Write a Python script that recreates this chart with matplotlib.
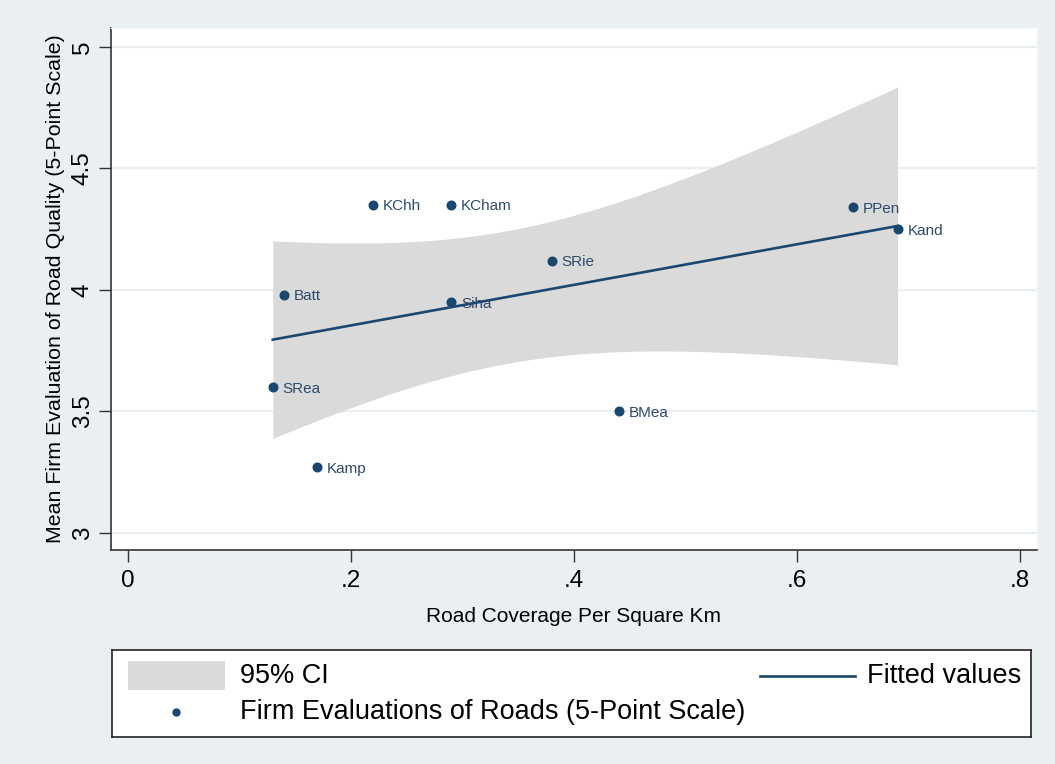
import numpy as np
import matplotlib
matplotlib.use("Agg")
import matplotlib.pyplot as plt
from matplotlib.patches import Rectangle
from matplotlib.lines import Line2D

plt.rcParams['font.family'] = ['Liberation Sans', 'DejaVu Sans']

# Province-level data: road coverage vs. mean firm rating of road quality
provinces = ["KChh", "KCham", "PPen", "Kand", "SRie", "Batt", "Siha", "SRea", "BMea", "Kamp"]
road_coverage = [0.22, 0.29, 0.65, 0.69, 0.38, 0.14, 0.29, 0.13, 0.44, 0.17]
road_quality = [4.35, 4.35, 4.34, 4.25, 4.12, 3.98, 3.95, 3.60, 3.50, 3.27]

x_ticks = [0, 0.2, 0.4, 0.6, 0.8]
x_tick_labels = ["0", ".2", ".4", ".6", ".8"]
y_ticks = [3, 3.5, 4, 4.5, 5]
y_tick_labels = ["3", "3.5", "4", "4.5", "5"]

navy = "#1a476f"
label_col = "#2d4a6c"
ci_col = "#dadada"
bg_col = "#eaf0f2"
grid_col = "#e9eef0"

# Linear fit with 95% confidence band for the mean prediction
x = np.asarray(road_coverage)
y = np.asarray(road_quality)
n = len(x)
slope, intercept = np.polyfit(x, y, 1)
resid = y - (intercept + slope * x)
s = np.sqrt(np.sum(resid ** 2) / (n - 2))
sxx = np.sum((x - x.mean()) ** 2)
t_crit = 2.306  # t(0.975, df=8)
xf = np.linspace(x.min(), x.max(), 200)
yf = intercept + slope * xf
half = t_crit * s * np.sqrt(1.0 / n + (xf - x.mean()) ** 2 / sxx)

fig = plt.figure(figsize=(10.55, 7.64), dpi=100, facecolor=bg_col)
W, H = 1055, 764
ax = fig.add_axes([111 / W, 1 - 550 / H, (1037 - 111) / W, (550 - 28) / H])
ax.set_facecolor("white")

ax.fill_between(xf, yf - half, yf + half, color=ci_col, lw=0, zorder=1)
ax.plot(xf, yf, color=navy, lw=1.9, zorder=3)
ax.plot(x, y, "o", color=navy, ms=6.2, zorder=4)
for name, xi, yi in zip(provinces, x, y):
    ax.annotate(name, (xi, yi), xytext=(7, -1), textcoords="offset points",
                ha="left", va="center", fontsize=11, color=label_col, zorder=5)

ax.set_xlim(-0.015, 0.815)
ax.set_ylim(2.93, 5.078)
ax.set_xticks(x_ticks)
ax.set_xticklabels(x_tick_labels, fontsize=17.5)
ax.set_yticks(y_ticks)
ax.set_yticklabels(y_tick_labels, fontsize=17.5, rotation=90, va="center")
ax.tick_params(axis="both", length=8.5, width=1.0, color="#333333")
ax.tick_params(axis="x", pad=6)
ax.tick_params(axis="y", pad=4)
ax.yaxis.grid(True, color=grid_col, lw=1.6, zorder=0)
ax.set_axisbelow(True)

for side in ["top", "right"]:
    ax.spines[side].set_color("#f4f7f8")
    ax.spines[side].set_linewidth(1.0)
for side in ["left", "bottom"]:
    ax.spines[side].set_color("#333333")
    ax.spines[side].set_linewidth(1.2)

ax.set_xlabel("Road Coverage Per Square Km", fontsize=15, labelpad=11)
ax.set_ylabel("Mean Firm Evaluation of Road Quality (5-Point Scale)", fontsize=15.4, labelpad=5)

# Legend panel
lax = fig.add_axes([112 / W, 1 - 737 / H, (1031 - 112) / W, (737 - 650) / H])
lax.set_xlim(112, 1031)
lax.set_ylim(737, 650)
lax.set_facecolor("white")
for sp in lax.spines.values():
    sp.set_color("#222222")
    sp.set_linewidth(1.2)
lax.set_xticks([])
lax.set_yticks([])

lax.add_patch(Rectangle((128, 661), 97, 29, color=ci_col, lw=0))
lax.text(240, 676, "95% CI", fontsize=19.5, va="center", ha="left")
lax.add_line(Line2D([760, 855], [676, 676], color=navy, lw=1.9))
lax.text(1021, 676, "Fitted values", fontsize=19.5, va="center", ha="right")
lax.plot([176], [712], "o", color=navy, ms=5)
lax.text(240, 712, "Firm Evaluations of Roads (5-Point Scale)", fontsize=19.5, va="center", ha="left")

fig.savefig("out.png", dpi=100, facecolor=bg_col)
